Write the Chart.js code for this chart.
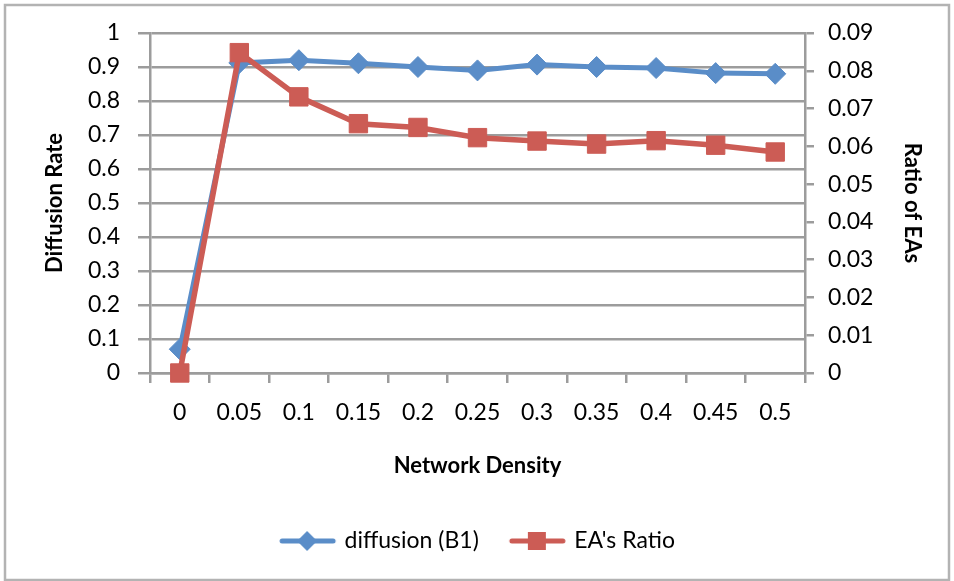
<!DOCTYPE html>
<html>
<head>
<meta charset="utf-8">
<script src="https://cdn.jsdelivr.net/npm/chart.js@4/dist/chart.umd.min.js"></script>
<style>
  html, body { margin: 0; padding: 0; background: #fff; }
</style>
</head>
<body>
<canvas id="densityChart" width="954" height="581"></canvas>
<script>
const densities = ['0', '0.05', '0.1', '0.15', '0.2', '0.25', '0.3', '0.35', '0.4', '0.45', '0.5'];
const diffusionB1 = [0.07, 0.912, 0.92, 0.911, 0.90, 0.89, 0.907, 0.90, 0.897, 0.882, 0.88];
const eaRatio = [0, 0.0848, 0.0731, 0.0660, 0.0650, 0.0623, 0.0614, 0.0606, 0.0615, 0.0603, 0.0585];
const leftTicks = ['0', '0.1', '0.2', '0.3', '0.4', '0.5', '0.6', '0.7', '0.8', '0.9', '1'];
const rightTicks = ['0', '0.01', '0.02', '0.03', '0.04', '0.05', '0.06', '0.07', '0.08', '0.09'];

const blue = '#5a8dc8';
const red = '#cc5c55';
const gridGray = '#9c9c9c';
const FONT = 'Lato';

// legend swatch: line with the marker on it (shifted right a bit so the text sits closer)
function legendSwatch(color, shape) {
  const c = document.createElement('canvas');
  c.width = 62; c.height = 24;
  const g = c.getContext('2d');
  g.strokeStyle = color;
  g.lineWidth = 5;
  g.lineCap = 'round';
  g.beginPath(); g.moveTo(7, 12); g.lineTo(58, 12); g.stroke();
  g.fillStyle = color;
  g.beginPath();
  if (shape === 'diamond') {
    g.moveTo(32, 2); g.lineTo(42, 12); g.lineTo(32, 22); g.lineTo(22, 12);
  } else {
    g.rect(23, 3, 18, 18);
  }
  g.closePath(); g.fill();
  return c;
}

const framePlugin = {
  id: 'frame',
  beforeDraw(chart) {
    const g = chart.ctx;
    g.save();
    g.fillStyle = '#fff';
    g.fillRect(0, 0, chart.width, chart.height);
    g.strokeStyle = '#b3b3b3';
    g.lineWidth = 2.5;
    g.strokeRect(5, 5, chart.width - 10, chart.height - 6);
    g.restore();
  }
};

const ctx = document.getElementById('densityChart').getContext('2d');
new Chart(ctx, {
  type: 'line',
  data: {
    labels: densities,
    datasets: [
      {
        label: 'diffusion (B1)',
        data: diffusionB1,
        yAxisID: 'y',
        borderColor: blue,
        backgroundColor: blue,
        borderWidth: 5,
        pointStyle: 'rectRot',
        pointRadius: 10.5,
        pointBorderWidth: 1,
        pointBorderColor: blue,
        pointBackgroundColor: blue,
        tension: 0,
        clip: false,
        order: 1
      },
      {
        label: "EA's Ratio",
        data: eaRatio,
        yAxisID: 'y2',
        borderColor: red,
        backgroundColor: red,
        borderWidth: 5.5,
        pointStyle: 'rect',
        pointRadius: 13,
        pointBorderWidth: 1,
        pointBorderColor: red,
        pointBackgroundColor: red,
        tension: 0,
        clip: false,
        order: 0
      }
    ]
  },
  options: {
    responsive: false,
    animation: false,
    layout: { padding: { top: 33, bottom: 18.5, left: 0, right: 0 } },
    plugins: {
      tooltip: { enabled: false },
      legend: {
        position: 'bottom',
        labels: {
          usePointStyle: true,
          pointStyleWidth: 54,
          padding: 30,
          color: '#000',
          font: { family: FONT, size: 23 },
          generateLabels: (chart) => [
            { text: 'diffusion (B1)', pointStyle: legendSwatch(blue, 'diamond'), fillStyle: blue, strokeStyle: blue, lineWidth: 0, datasetIndex: 0, fontColor: '#000' },
            { text: "EA's Ratio", pointStyle: legendSwatch(red, 'square'), fillStyle: red, strokeStyle: red, lineWidth: 0, datasetIndex: 1, fontColor: '#000' }
          ]
        }
      }
    },
    scales: {
      x: {
        offset: true,
        afterFit: (s) => { s.height = 126.5; },
        grid: { offset: true, drawOnChartArea: false, tickLength: 10, color: gridGray, lineWidth: 2.5 },
        border: { color: gridGray, width: 2.5 },
        ticks: { color: '#000', padding: 16, font: { family: FONT, size: 23 }, maxRotation: 0 },
        title: {
          display: true,
          text: 'Network Density',
          color: '#000',
          font: { family: FONT, size: 22, weight: 'bold' },
          padding: { top: 0, bottom: 20 }
        }
      },
      y: {
        position: 'left',
        min: 0,
        max: 1,
        afterFit: (s) => { s.width = 150; },
        grid: { color: gridGray, lineWidth: 2.5, tickLength: 12 },
        border: { color: gridGray, width: 2.5 },
        ticks: {
          stepSize: 0.1,
          padding: 18,
          color: '#000',
          font: { family: FONT, size: 23 },
          callback: (v, i) => leftTicks[i]
        },
        title: {
          display: true,
          text: 'Diffusion Rate',
          color: '#000',
          font: { family: FONT, size: 22, weight: 'bold' },
          padding: { top: 42, bottom: 0 }
        }
      },
      y2: {
        position: 'right',
        min: 0,
        max: 0.09,
        afterFit: (s) => { s.width = 149; },
        grid: { drawOnChartArea: false, color: gridGray, lineWidth: 2.5, tickLength: 9 },
        border: { color: gridGray, width: 2.5 },
        ticks: {
          stepSize: 0.01,
          padding: 14,
          color: '#000',
          font: { family: FONT, size: 23 },
          callback: (v, i) => rightTicks[i]
        },
        title: {
          display: true,
          text: 'Ratio of EAs',
          color: '#000',
          font: { family: FONT, size: 22, weight: 'bold' },
          padding: { top: 29, bottom: 0 }
        }
      }
    }
  },
  plugins: [framePlugin]
});
</script>
</body>
</html>
